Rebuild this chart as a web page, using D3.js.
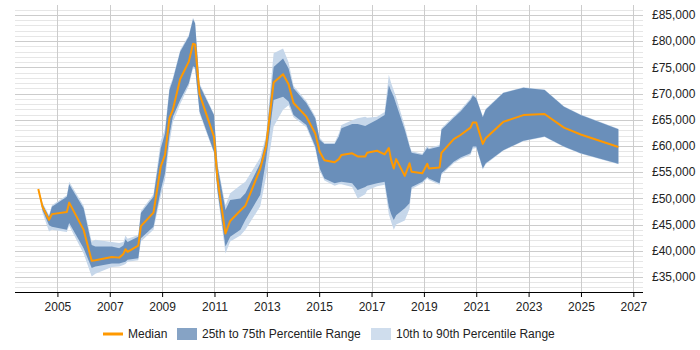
<!DOCTYPE html>
<html>
<head>
<meta charset="utf-8">
<script src="https://cdn.jsdelivr.net/npm/d3@7"></script>
<style>
  body { margin: 0; background: #fff; }
  text { font-family: "Liberation Sans", Arial, sans-serif; }
</style>
</head>
<body>
<svg width="700" height="350"></svg>
<script>
// dates as decimal years, values in £1000s
const years = [2004.27, 2004.43, 2004.68, 2004.79, 2005.36, 2005.45, 2006.0, 2006.31, 2006.45, 2007.08,
  2007.36, 2007.52, 2007.6, 2007.68, 2008.09, 2008.19, 2008.67, 2008.95, 2009.11, 2009.28,
  2009.41, 2009.69, 2010.02, 2010.18, 2010.26, 2010.43, 2010.98, 2011.12, 2011.42, 2011.6,
  2011.99, 2012.18, 2012.75, 2012.97, 2013.26, 2013.62, 2013.83, 2014.02, 2014.51, 2014.85,
  2015.02, 2015.2, 2015.59, 2015.75, 2015.85, 2016.26, 2016.47, 2016.76, 2016.83, 2017.21,
  2017.5, 2017.66, 2017.75, 2017.85, 2017.94, 2018.27, 2018.45, 2018.53, 2018.94, 2019.13,
  2019.19, 2019.6, 2019.67, 2020.14, 2020.4, 2020.78, 2020.87, 2021.0, 2021.25, 2021.36,
  2022.03, 2022.8, 2023.61, 2024.35, 2024.99, 2026.43];
const p10 = [51.8, 47.3, 43.7, 44.0, 43.6, 44.8, 39.5, 35.1, 35.6, 36.9,
  37.0, 37.3, 37.5, 37.9, 38.2, 41.8, 44.0, 50.5, 53.5, 60.5,
  64.5, 68.0, 71.5, 74.8, 74.7, 66.2, 58.6, 50.8, 39.5, 41.8,
  42.9, 44.0, 48.5, 54.1, 63.7, 66.9, 67.8, 65.5, 63.6, 59.5,
  55.3, 53.4, 52.4, 52.7, 52.7, 52.2, 50.0, 50.8, 51.5, 52.3,
  52.6, 47.0, 45.5, 44.0, 45.0, 45.8, 48.0, 51.8, 52.9, 53.8,
  53.5, 52.6, 54.5, 56.7, 57.5, 58.3, 59.5, 59.6, 55.5, 56.5,
  59.1, 60.9, 61.7, 59.8, 58.5, 56.5];
const p25 = [51.8, 47.8, 44.9, 44.6, 44.0, 45.3, 40.5, 36.7, 37.0, 37.6,
  37.6, 37.8, 37.9, 38.3, 38.6, 42.4, 44.6, 51.6, 54.8, 62.1,
  65.6, 68.8, 72.0, 75.2, 75.0, 66.6, 58.9, 51.3, 40.8, 42.7,
  44.0, 45.9, 50.7, 57.3, 68.8, 69.4, 68.5, 65.9, 64.0, 59.9,
  55.7, 53.8, 52.9, 53.1, 53.2, 52.9, 51.6, 52.2, 52.4, 52.9,
  53.2, 48.4, 47.0, 45.9, 46.8, 48.1, 49.1, 52.2, 53.2, 54.1,
  53.8, 52.9, 54.8, 57.0, 57.8, 58.6, 59.9, 59.9, 55.7, 56.7,
  59.2, 61.0, 61.8, 59.9, 58.6, 56.6];
const median = [51.8, 48.4, 45.9, 47.0, 47.4, 49.2, 44.0, 38.1, 38.2, 38.8,
  38.7, 39.4, 40.3, 39.8, 41.0, 44.7, 47.3, 56.1, 58.3, 65.3,
  66.9, 72.8, 76.1, 79.5, 79.4, 69.9, 61.8, 53.5, 43.3, 45.7,
  47.7, 48.6, 55.7, 59.9, 72.1, 73.7, 71.8, 68.2, 65.6, 62.4,
  58.9, 57.3, 56.9, 57.5, 58.3, 58.6, 58.0, 58.0, 58.7, 59.1,
  58.4, 59.6, 57.3, 55.7, 57.5, 54.3, 56.7, 55.1, 54.8, 56.6,
  55.7, 55.9, 58.7, 61.3, 62.1, 63.5, 64.5, 64.5, 60.4, 61.5,
  64.6, 65.9, 66.1, 63.5, 62.2, 59.8];
const p75 = [51.8, 48.9, 46.5, 48.4, 50.3, 52.7, 48.1, 41.1, 40.8, 40.8,
  40.5, 41.0, 42.2, 41.7, 42.7, 47.2, 50.3, 59.6, 62.4, 70.7,
  72.6, 78.0, 80.9, 84.2, 83.4, 71.6, 65.9, 56.1, 47.8, 49.7,
  50.0, 51.0, 56.7, 61.2, 75.1, 76.7, 74.8, 71.0, 68.2, 65.3,
  61.2, 60.4, 60.4, 61.8, 63.4, 64.2, 64.2, 63.8, 64.0, 65.0,
  65.9, 71.6, 70.5, 69.4, 68.0, 63.1, 59.9, 58.7, 58.3, 59.6,
  59.4, 59.9, 63.1, 65.4, 66.6, 68.8, 69.6, 69.1, 65.5, 66.9,
  70.1, 71.1, 70.7, 67.5, 65.9, 63.2];
const p90 = [51.8, 49.2, 46.8, 48.7, 50.6, 53.2, 48.6, 41.8, 42.1, 41.7,
  41.5, 41.7, 42.9, 42.3, 43.0, 47.6, 50.8, 61.0, 63.3, 71.2,
  73.0, 78.3, 81.2, 84.5, 83.6, 72.0, 66.1, 56.5, 48.7, 51.0,
  52.5, 53.2, 57.8, 62.0, 77.7, 78.6, 76.0, 71.5, 68.6, 65.7,
  61.6, 60.6, 60.6, 62.4, 64.0, 64.9, 65.3, 65.6, 65.4, 65.6,
  66.5, 73.6, 72.0, 70.6, 69.3, 63.8, 60.3, 59.0, 58.5, 60.1,
  59.6, 60.2, 63.4, 65.7, 66.9, 69.1, 70.0, 69.3, 65.7, 67.1,
  70.2, 71.2, 70.8, 67.6, 66.0, 63.3];
const xTicks = [2005, 2007, 2009, 2011, 2013, 2015, 2017, 2019, 2021, 2023, 2025, 2027];
const yTicks = [35000, 40000, 45000, 50000, 55000, 60000, 65000, 70000, 75000, 80000, 85000];
const legendLabels = ["Median", "25th to 75th Percentile Range", "10th to 90th Percentile Range"];

const rows = years.map((yr, i) => ({
  yr: yr, p10: p10[i] * 1000, p25: p25[i] * 1000, med: median[i] * 1000,
  p75: p75[i] * 1000, p90: p90[i] * 1000
}));

const plotL = 15, plotR = 643, plotT = 5, plotB = 292;
const svg = d3.select("svg");

const x = d3.scaleLinear().domain([2003.38, 2027.37]).range([plotL, plotR]);
const y = d3.scaleLinear().domain([32140, 86910]).range([plotB, plotT]);

// grid: minor every 1000, major every 5000
svg.append("g").selectAll("line")
  .data(d3.range(33000, 87000, 1000).filter(v => v % 5000 !== 0))
  .join("line")
  .attr("x1", plotL).attr("x2", plotR)
  .attr("y1", d => Math.round(y(d)) + 0.5).attr("y2", d => Math.round(y(d)) + 0.5)
  .attr("stroke", "#e6e6e6");

svg.append("g").selectAll("line")
  .data(yTicks)
  .join("line")
  .attr("x1", plotL).attr("x2", plotR)
  .attr("y1", d => Math.round(y(d)) + 0.5).attr("y2", d => Math.round(y(d)) + 0.5)
  .attr("stroke", "#cccccc");

svg.append("g").selectAll("line")
  .data(xTicks)
  .join("line")
  .attr("x1", d => Math.round(x(d)) + 0.5).attr("x2", d => Math.round(x(d)) + 0.5)
  .attr("y1", plotT).attr("y2", plotB)
  .attr("stroke", "#cccccc");

// bands
const outer = d3.area().x(d => x(d.yr)).y0(d => y(d.p10)).y1(d => y(d.p90));
const inner = d3.area().x(d => x(d.yr)).y0(d => y(d.p25)).y1(d => y(d.p75));
const line = d3.line().x(d => x(d.yr)).y(d => y(d.med));

svg.append("path").datum(rows).attr("d", outer).attr("fill", "#c6d7ea");
svg.append("path").datum(rows).attr("d", inner).attr("fill", "#6a8fba");
svg.append("path").datum(rows).attr("d", line)
  .attr("fill", "none").attr("stroke", "#ff9900").attr("stroke-width", 2)
  .attr("stroke-linejoin", "round");

// x axis
const xAxis = svg.append("g")
  .attr("transform", `translate(0,${plotB})`)
  .call(d3.axisBottom(x).tickValues(xTicks).tickFormat(d3.format("d")).tickSize(5).tickSizeOuter(0));
xAxis.select(".domain").attr("stroke", "#000").attr("d", `M${plotL},0.5H${plotR}`);
xAxis.selectAll(".tick line").attr("stroke", "#000");
xAxis.selectAll("text").attr("font-size", 12).attr("fill", "#222").attr("dy", "0.95em")
  .style("font-family", "'Liberation Sans', Arial, sans-serif");

// y axis labels on the right
const fmt = d3.format(",");
svg.append("g").selectAll("text")
  .data(yTicks)
  .join("text")
  .attr("x", 652).attr("y", d => y(d))
  .attr("dy", "0.35em")
  .attr("font-size", 12).attr("fill", "#222")
  .text(d => "£" + fmt(d));

// legend
const lg = svg.append("g");
lg.append("line").attr("x1", 103).attr("x2", 123).attr("y1", 334).attr("y2", 334)
  .attr("stroke", "#ff9900").attr("stroke-width", 3);
lg.append("text").attr("x", 128).attr("y", 334).attr("dy", "0.35em")
  .attr("font-size", 12).attr("fill", "#222").text(legendLabels[0]);
lg.append("rect").attr("x", 177).attr("y", 328).attr("width", 20).attr("height", 12)
  .attr("fill", "#86a3c5");
lg.append("text").attr("x", 202).attr("y", 334).attr("dy", "0.35em")
  .attr("font-size", 12).attr("fill", "#222").text(legendLabels[1]);
lg.append("rect").attr("x", 371).attr("y", 328).attr("width", 20).attr("height", 12)
  .attr("fill", "#cfdded");
lg.append("text").attr("x", 396).attr("y", 334).attr("dy", "0.35em")
  .attr("font-size", 12).attr("fill", "#222").text(legendLabels[2]);
</script>
</body>
</html>
